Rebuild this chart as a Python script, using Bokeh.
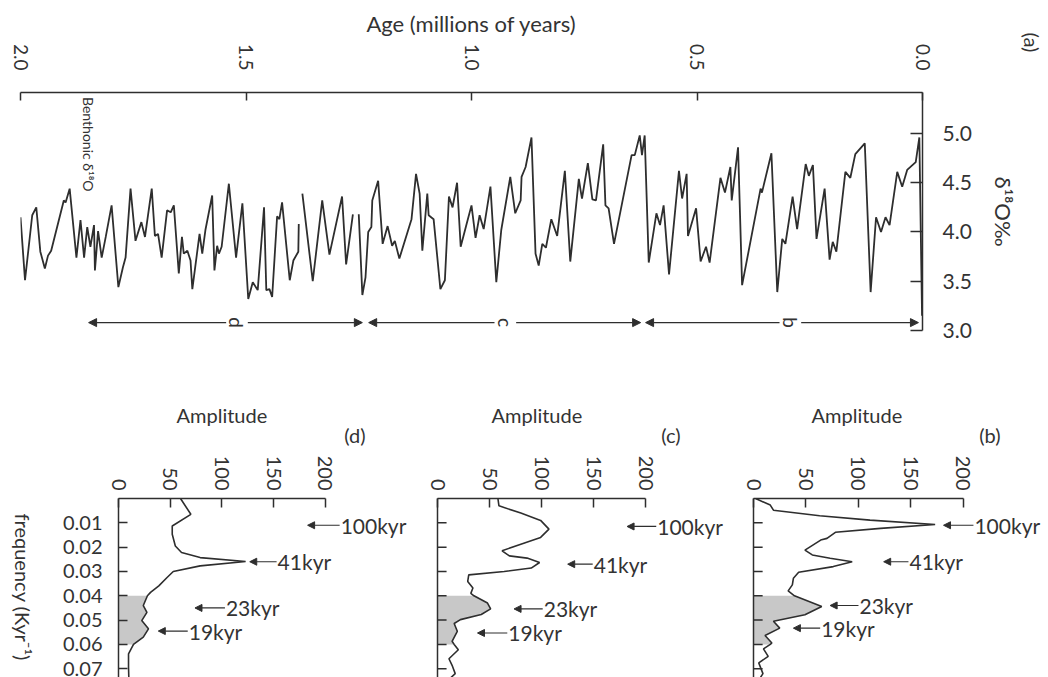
import math
from bokeh.plotting import figure
from bokeh.layouts import column, row
from bokeh.models import Range1d, FixedTicker, PrintfTickFormatter, Label, Arrow, NormalHead, Title
from bokeh.embed import file_html
from bokeh.resources import INLINE

# ---------------- data: benthonic d18O record (panel a) ----------------
age_ma = [2.000, 1.990, 1.974, 1.965, 1.956, 1.946, 1.939, 1.932, 1.904, 1.900, 1.891, 1.876, 1.867, 1.859,
          1.852, 1.845, 1.837, 1.835, 1.828, 1.820, 1.811, 1.798, 1.783, 1.773, 1.767, 1.756, 1.745, 1.732,
          1.724, 1.709, 1.702, 1.695, 1.687, 1.675, 1.667, 1.660, 1.649, 1.642, 1.638, 1.630, 1.623, 1.619,
          1.603, 1.597, 1.590, 1.575, 1.570, 1.564, 1.560, 1.554, 1.538, 1.522, 1.508, 1.495, 1.485, 1.474,
          1.460, 1.455, 1.448, 1.442, 1.431, 1.426, 1.420, 1.403, 1.395, 1.384, 1.383, 1.379,
          1.375, 1.352, 1.331, 1.315, 1.287, 1.278, 1.263, 1.256,
          1.250, 1.242, 1.235, 1.229, 1.222, 1.220, 1.207,
          1.197, 1.186, 1.176, 1.170, 1.160, 1.133, 1.123, 1.115, 1.109, 1.098, 1.095, 1.084, 1.069, 1.059,
          1.050, 1.042, 1.032, 1.024, 1.012, 1.000, 0.991, 0.982, 0.973, 0.958, 0.945, 0.934, 0.914, 0.903,
          0.891, 0.889, 0.880, 0.867, 0.858, 0.851, 0.843, 0.835, 0.823, 0.810,
          0.793, 0.781, 0.762, 0.758, 0.755, 0.742, 0.732, 0.724, 0.708, 0.703, 0.696, 0.684, 0.645, 0.638,
          0.627, 0.622, 0.616, 0.607, 0.590, 0.582, 0.574, 0.562, 0.540, 0.533, 0.523, 0.520, 0.502, 0.492,
          0.480, 0.472, 0.448, 0.438, 0.426, 0.423, 0.409,
          0.400, 0.359, 0.356, 0.335, 0.322, 0.311, 0.304, 0.288, 0.278, 0.259, 0.252, 0.243, 0.235, 0.217,
          0.206, 0.199, 0.191, 0.171, 0.160, 0.149, 0.128, 0.115, 0.103, 0.092, 0.082, 0.073, 0.056, 0.045,
          0.034, 0.015, 0.007, 0.001]
NaN = float("nan")
d18o = [4.15, 3.51, 4.17, 4.25, 3.80, 3.63, 3.76, 3.81, 4.32, 4.30, 4.44, 3.74, 4.12, 3.74,
        4.05, 3.85, 4.07, 3.61, 4.01, 3.74, 3.95, 4.27, 3.44, 3.64, 3.74, 4.44, 3.91, 4.10,
        3.95, 4.44, 3.96, 3.98, 3.74, 4.22, 4.20, 4.27, 3.58, 3.95, 3.78, 3.81, 3.71, 3.42,
        3.98, 3.78, 4.02, 4.37, 3.61, 3.86, 3.78, 3.85, 4.49, 3.74, 4.29, 3.32, 3.49, 3.41,
        4.25, 3.41, 3.42, 3.34, 4.16, 4.13, 4.30, 3.51, 3.71, 3.80, 4.08, NaN,
        4.39, 3.50, 4.32, 3.77, 4.36, 3.67, 4.18, NaN,
        4.18, 3.36, 3.54, 4.00, 4.05, 4.32, 4.52,
        3.88, 4.06, 3.86, 3.91, 3.73, 4.13, 4.59, 4.39, 3.81, 4.39, 4.17, 4.13, 3.42, 3.51,
        4.36, 4.25, 4.50, 3.85, 4.06, 4.27, 3.94, 4.17, 4.03, 4.46, 3.49, 4.02, 4.56, 4.19,
        4.32, 4.56, 4.66, 4.96, 3.78, 3.66, 3.88, 3.84, 4.13, 3.96,
        4.62, 3.70, 4.54, 4.42, 4.34, 4.70, 4.33, 4.32, 4.89, 4.27, 4.24, 3.88, 4.78, 4.78,
        4.98, 4.78, 4.98, 3.69, 4.19, 4.07, 4.27, 3.57, 4.62, 4.34, 4.59, 3.96, 4.24, 3.70,
        3.85, 3.69, 4.55, 4.40, 4.66, 4.32, 4.86,
        3.46, 4.44, 4.40, 4.80, 3.39, 3.93, 3.88, 4.36, 4.03, 4.69, 4.57, 4.68, 3.93, 4.44,
        3.72, 3.90, 3.80, 4.61, 4.55, 4.79, 4.90, 3.39, 4.15, 4.00, 4.15, 4.07, 4.61, 4.46,
        4.63, 4.71, 4.96, 3.15]

period_names = ["b", "c", "d"]
period_young = [0.009, 0.625, 1.242]
period_old = [0.614, 1.228, 1.849]
period_mid = [0.293, 0.925, 1.520]

age_ticks = [2.0, 1.5, 1.0, 0.5, 0.0]
d18o_ticks = [3.0, 3.5, 4.0, 4.5, 5.0]

# ---------------- data: amplitude spectra (panels b, c, d) ----------------
freq_d = [0.000, 0.0065, 0.0113, 0.0147, 0.0195, 0.0222, 0.0243, 0.0259, 0.0277, 0.0300, 0.0325, 0.0359,
          0.0386, 0.0400, 0.0440, 0.0468, 0.0502, 0.0536, 0.0570, 0.0600, 0.0639, 0.0693, 0.0740]
amp_d = [60, 70, 52, 52, 55, 61, 79, 123, 79, 53, 47, 39,
         31, 28, 24, 27.5, 22.5, 29, 24, 14.5, 9.7, 9.7, 10]

freq_c = [0.000, 0.003, 0.006, 0.009, 0.0126, 0.016, 0.0188, 0.0215, 0.0236, 0.0245, 0.0263, 0.0286,
          0.0300, 0.0314, 0.0341, 0.0368, 0.0390, 0.0400, 0.0430, 0.0454, 0.0477, 0.0498, 0.0514, 0.0546,
          0.0587, 0.0600, 0.0622, 0.0659, 0.0686, 0.0720, 0.0740]
amp_c = [58, 59, 80, 99, 107, 99, 80, 62, 69, 86, 98, 90,
         64, 30, 29, 34, 32, 35, 48, 51, 42, 22, 16, 19,
         14, 16, 20, 11, 14, 17, 12]

freq_b = [0.000, 0.0027, 0.0048, 0.0071, 0.0089, 0.0107, 0.0123, 0.0139, 0.0164, 0.0171, 0.0212, 0.0232,
          0.0246, 0.0260, 0.0280, 0.0303, 0.0328, 0.0355, 0.0380, 0.0400, 0.0444, 0.0478, 0.0505, 0.0533,
          0.0563, 0.0594, 0.0600, 0.0618, 0.0649, 0.0676, 0.0720, 0.0740]
amp_b = [2, 16, 19, 63, 111, 173, 121, 78, 70, 64, 49, 56,
         73, 94, 76, 43, 38, 37, 33, 39, 65, 49, 19, 25,
         11, 17.5, 16, 9.5, 14, 5, 9, 6]

peak_labels = ["100kyr", "41kyr", "23kyr", "19kyr"]
peak_freq_d = [0.0110, 0.0260, 0.0450, 0.0545]
peak_tip_d = [183, 127, 74, 38.5]
peak_tail_d = [214, 153, 103, 67]
peak_freq_c = [0.0115, 0.0270, 0.0454, 0.0553]
peak_tip_c = [182, 125, 73.5, 38.4]
peak_tail_c = [210, 149, 101, 67]
peak_freq_b = [0.0110, 0.0260, 0.0440, 0.0533]
peak_tip_b = [181, 124, 73, 38]
peak_tail_b = [209.5, 147.6, 100, 63.5]

amp_ticks = [0, 50, 100, 150, 200]
freq_ticks = [0.01, 0.02, 0.03, 0.04, 0.05, 0.06, 0.07]
shade_band = [0.04, 0.06]

# ---------------- styling ----------------
FONT = "Lato"
INK = "#2e2e2e"
TXT = "#333333"
SHADE = "#c8c8c8"
TICK_AMP = 8.7        # inward tick length, in amplitude units (~9 px)
FREQ_BOTTOM = 0.0736  # frequency value at the bottom edge of the page


def style_axis(ax, size="19px", standoff=14, tick_len=9):
    ax.axis_line_color = INK
    ax.axis_line_width = 1.5
    ax.major_tick_line_color = INK
    ax.major_tick_line_width = 1.5
    ax.major_tick_in = tick_len
    ax.major_tick_out = 0
    ax.minor_tick_line_color = None
    ax.major_label_text_font = FONT
    ax.major_label_text_font_size = size
    ax.major_label_text_color = TXT
    ax.major_label_standoff = standoff
    ax.axis_label_text_font = FONT
    ax.axis_label_text_font_style = "normal"
    ax.axis_label_text_color = TXT


def side_title(text, align, offset, standoff=0, size="20px"):
    return Title(text=text, align=align, offset=offset, standoff=standoff,
                 text_font=FONT, text_font_size=size, text_font_style="normal",
                 text_color=TXT, vertical_align="bottom")


# ---------------- panel (a) ----------------
p = figure(width=1048, height=370, x_range=Range1d(2.0, 0.0), y_range=Range1d(3.0, 5.416),
           x_axis_location="above", y_axis_location="right",
           output_backend="svg", toolbar_location=None,
           min_border_left=20, min_border_right=126, min_border_top=92, min_border_bottom=40)
p.outline_line_color = None
p.grid.visible = False
p.border_fill_color = "white"

p.line(age_ma, d18o, line_color=INK, line_width=1.8)

xa = p.xaxis[0]
style_axis(xa, size="19px", standoff=22, tick_len=8)
xa.ticker = FixedTicker(ticks=age_ticks)
xa.formatter = PrintfTickFormatter(format="%.1f")
xa.major_label_orientation = -math.pi / 2
xa.axis_label = "Age (millions of years)"
xa.axis_label_text_font_size = "22px"
xa.axis_label_standoff = 4

ya = p.yaxis[0]
style_axis(ya, size="21px", standoff=20, tick_len=12)
ya.ticker = FixedTicker(ticks=d18o_ticks)
ya.formatter = PrintfTickFormatter(format="%.1f")
ya.axis_label = "δ¹⁸O‰"
ya.axis_label_text_font_size = "22px"
ya.axis_label_standoff = 15

p.add_layout(side_title("(a)", "left", -60, 0), "right")

p.add_layout(Label(x=1.849, y=5.37, text="Benthonic δ¹⁸O", angle=-math.pi / 2,
                   text_align="left", text_baseline="middle", text_font=FONT,
                   text_font_size="14px", text_color=TXT))

arrow_y = 3.08
gap = 0.024
for name, young, old, mid in zip(period_names, period_young, period_old, period_mid):
    for start, end in ((mid + gap, old), (mid - gap, young)):
        p.add_layout(Arrow(end=NormalHead(size=8, fill_color=INK, line_color=INK),
                           x_start=start, y_start=arrow_y, x_end=end, y_end=arrow_y,
                           line_color=INK, line_width=1.4))
    p.add_layout(Label(x=mid, y=arrow_y, text=name, angle=-math.pi / 2,
                       text_align="center", text_baseline="middle", text_font=FONT,
                       text_font_size="19px", text_color=TXT))


# ---------------- spectra ----------------
def spectrum(freq, amp, pk_freq, pk_tip, pk_tail, tag, tag_offset, amp_offset, width, bl, amp_end, with_labels):
    s = figure(width=width, height=307, x_range=Range1d(0, amp_end), y_range=Range1d(FREQ_BOTTOM, 0.0),
               x_axis_location="above", y_axis_location="left",
               output_backend="svg", toolbar_location=None,
               min_border_left=bl, min_border_right=0, min_border_top=128, min_border_bottom=0)
    s.outline_line_color = None
    s.grid.visible = False
    s.border_fill_color = "white"

    sf = [f for f in freq if shade_band[0] <= f <= shade_band[1]]
    sa = [a for f, a in zip(freq, amp) if shade_band[0] <= f <= shade_band[1]]
    s.harea(y=sf, x1=[0] * len(sf), x2=sa, fill_color=SHADE, fill_alpha=1.0)
    s.line(amp, freq, line_color=INK, line_width=1.6)

    ax = s.xaxis[0]
    style_axis(ax, size="20px", standoff=8, tick_len=9)
    ax.bounds = (0, 200)
    ax.ticker = FixedTicker(ticks=amp_ticks)
    ax.major_label_orientation = -math.pi / 2

    ay = s.yaxis[0]
    style_axis(ay, size="20px", standoff=16, tick_len=9)
    if with_labels:
        ay.ticker = FixedTicker(ticks=freq_ticks)
        ay.formatter = PrintfTickFormatter(format="%.2f")
    else:
        ay.ticker = FixedTicker(ticks=[])
        s.segment(x0=[0] * len(freq_ticks), y0=freq_ticks, x1=[TICK_AMP] * len(freq_ticks), y1=freq_ticks,
                  line_color=INK, line_width=1.5)

    for lab, f, tip, tail in zip(peak_labels, pk_freq, pk_tip, pk_tail):
        s.add_layout(Arrow(end=NormalHead(size=7, fill_color=INK, line_color=INK),
                           x_start=tail, y_start=f, x_end=tip, y_end=f,
                           line_color=INK, line_width=1.2))
        s.add_layout(Label(x=tail, y=f, text=lab, text_align="left", text_baseline="middle",
                           text_font=FONT, text_font_size="21px", text_color=TXT, x_offset=1))

    # inner title: panel tag, outer title: amplitude label
    s.add_layout(side_title(tag, "right", tag_offset, 12), "above")
    s.add_layout(side_title("Amplitude", "left", amp_offset, -24), "above")
    return s


# narrow strip holding the rotated frequency label left of panel (d)
fl = figure(width=45, height=307, x_range=Range1d(0, 45), y_range=Range1d(FREQ_BOTTOM, 0.0),
            x_axis_location=None, y_axis_location=None,
            output_backend="svg", toolbar_location=None,
            min_border_left=0, min_border_right=0, min_border_top=128, min_border_bottom=0)
fl.outline_line_color = None
fl.border_fill_color = "white"
fl.background_fill_color = "white"
fl.xgrid.visible = False
fl.ygrid.visible = False
fl.grid.grid_line_color = None
fl.add_layout(Label(x=22, y=0.0062, text="frequency (Kyr⁻¹)", angle=-math.pi / 2,
                    text_align="left", text_baseline="middle", text_font=FONT,
                    text_font_size="20px", text_color=TXT))

sd = spectrum(freq_d, amp_d, peak_freq_d, peak_tip_d, peak_tail_d, "(d)", 47, 58, 367, 73, 284.5, True)
sc = spectrum(freq_c, amp_c, peak_freq_c, peak_tip_c, peak_tail_c, "(c)", 50, 54, 318, 25, 281.3, False)
sb = spectrum(freq_b, amp_b, peak_freq_b, peak_tip_b, peak_tail_b, "(b)", 48, 58, 318, 23, 281.0, False)

layout = column(p, row(fl, sd, sc, sb, spacing=0), spacing=0)

open("out.html", "w").write(file_html(layout, INLINE))
